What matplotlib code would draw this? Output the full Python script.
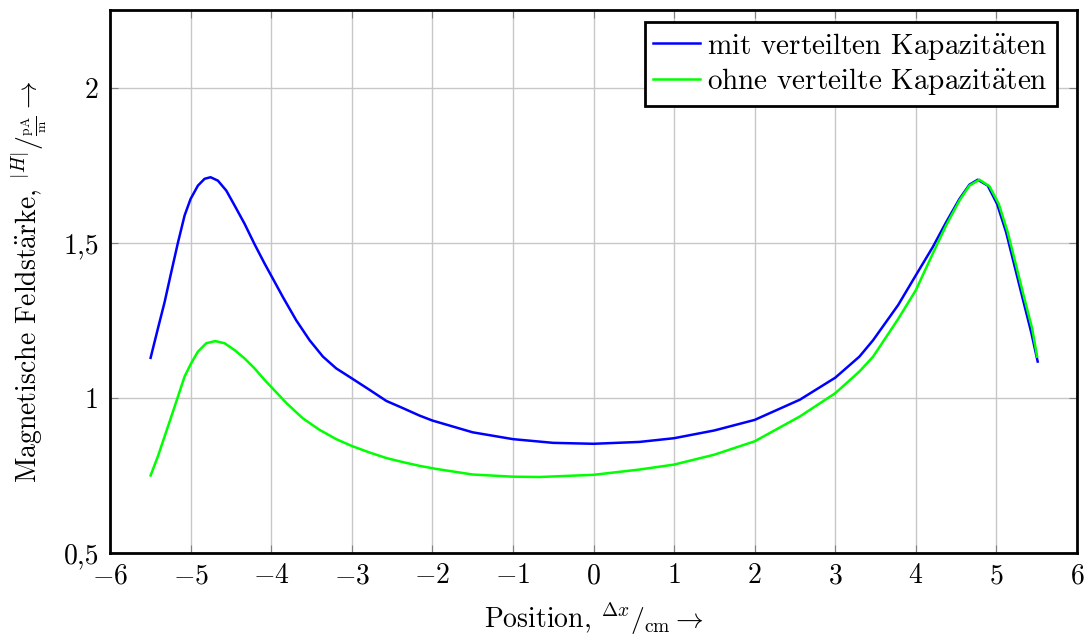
import numpy as np
from matplotlib import pyplot as plt

plt.rcParams['font.family'] = ['cmr10', 'STIXGeneral']
plt.rcParams['mathtext.fontset'] = 'cm'
plt.rcParams['axes.formatter.use_mathtext'] = True

# mit verteilten Kapazitaeten
x_mit = [-5.496, -5.405, -5.322, -5.239, -5.157, -5.074, -5.000, -4.909, -4.826, -4.752, -4.661, -4.557,
         -4.454, -4.330, -4.206, -4.082, -3.966, -3.855, -3.689, -3.524, -3.358, -3.193, -3.000, -2.780,
         -2.570, -2.366, -2.160, -2.000, -1.500, -1.000, -0.500, 0.000, 0.570, 1.000, 1.500, 2.000,
         2.560, 3.000, 3.300, 3.470, 3.780, 4.000, 4.210, 4.376, 4.541, 4.665, 4.768, 4.892, 5.008,
         5.120, 5.223, 5.326, 5.430, 5.512]
y_mit = [1.129, 1.224, 1.309, 1.406, 1.500, 1.588, 1.641, 1.684, 1.706, 1.711, 1.700, 1.668,
         1.620, 1.561, 1.495, 1.433, 1.378, 1.325, 1.250, 1.186, 1.133, 1.095, 1.063, 1.026,
         0.990, 0.967, 0.943, 0.927, 0.889, 0.867, 0.855, 0.852, 0.858, 0.870, 0.895, 0.929,
         0.994, 1.065, 1.133, 1.186, 1.299, 1.395, 1.486, 1.566, 1.641, 1.687, 1.703, 1.684, 1.625,
         1.534, 1.427, 1.320, 1.213, 1.117]

# ohne verteilte Kapazitaeten
x_ohne = [-5.496, -5.405, -5.322, -5.239, -5.157, -5.074, -4.992, -4.909, -4.806, -4.694, -4.578, -4.454,
          -4.330, -4.206, -4.082, -3.966, -3.810, -3.607, -3.400, -3.193, -3.000, -2.780, -2.570, -2.366,
          -2.160, -1.950, -1.500, -1.000, -0.670, 0.000, 0.570, 1.000, 1.500, 2.000, 2.560, 3.000,
          3.300, 3.470, 3.780, 4.000, 4.210, 4.376, 4.541, 4.665, 4.789, 4.913, 5.029, 5.140, 5.244,
          5.347, 5.443, 5.505]
y_ohne = [0.750, 0.812, 0.876, 0.940, 1.004, 1.069, 1.112, 1.149, 1.176, 1.183, 1.176, 1.154,
          1.127, 1.095, 1.058, 1.026, 0.983, 0.934, 0.897, 0.867, 0.845, 0.824, 0.806, 0.793,
          0.781, 0.771, 0.753, 0.746, 0.745, 0.752, 0.769, 0.785, 0.817, 0.860, 0.940, 1.015,
          1.085, 1.133, 1.254, 1.347, 1.465, 1.556, 1.636, 1.684, 1.703, 1.682, 1.625, 1.534, 1.427,
          1.320, 1.224, 1.133]

xticks = [-6, -5, -4, -3, -2, -1, 0, 1, 2, 3, 4, 5, 6]
yticks = [0.5, 1.0, 1.5, 2.0]
ylabels = ['0,5', '1', '1,5', '2']

fig = plt.figure(figsize=(10.88, 6.35), dpi=100)
ax = fig.add_axes([0.1011, 0.1291, 0.8888, 0.8552])

ax.plot(x_mit, y_mit, color=(0, 0, 1), lw=1.8, solid_joinstyle='round',
        label='mit verteilten Kapazit$\\ddot{\\mathrm{a}}$ten')
ax.plot(x_ohne, y_ohne, color=(0, 1, 0), lw=1.8, solid_joinstyle='round',
        label='ohne verteilte Kapazit$\\ddot{\\mathrm{a}}$ten')

ax.set_xlim(-6, 6)
ax.set_ylim(0.5, 2.25)
ax.set_xticks(xticks)
ax.set_xticklabels(['$%d$' % t for t in xticks])
ax.set_yticks(yticks)
ax.set_yticklabels(ylabels)
ax.tick_params(labelsize=20, direction='in', length=6, color='0.5', top=True, right=True)
ax.tick_params(axis='x', pad=7)
ax.tick_params(axis='y', pad=8)
ax.grid(True, color='0.78', lw=1)
ax.set_axisbelow(True)
for s in ax.spines.values():
  s.set_linewidth(2)

ax.set_xlabel(r'Position, $^{\Delta x}/_{\mathrm{cm}} \rightarrow$', fontsize=20, labelpad=8)
ax.set_ylabel(r'Magnetische Feldst$\ddot{\mathrm{a}}$rke, $^{|H|}/_{\frac{\mathrm{pA}}{\mathrm{m}}} \rightarrow$',
              fontsize=20, labelpad=10)

leg = ax.legend(loc='upper right', fontsize=21, fancybox=False, framealpha=1, edgecolor='black',
                handlelength=1.6, handletextpad=0.25, borderpad=0.3, labelspacing=0.15,
                borderaxespad=0, bbox_to_anchor=(0.979, 0.978))
leg.get_frame().set_linewidth(2)

fig.savefig('out.png', dpi=100)
